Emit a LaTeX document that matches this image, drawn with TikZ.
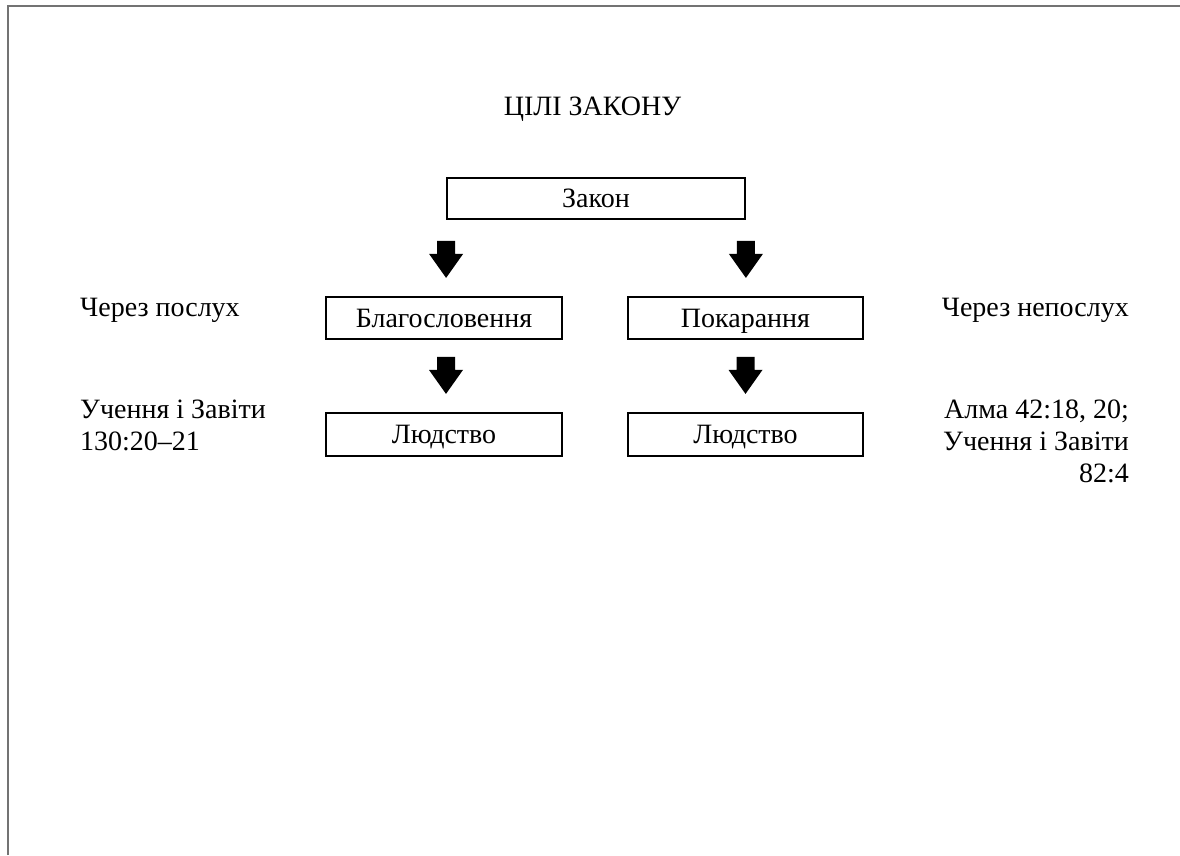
\documentclass[tikz,border=0pt]{standalone}
\usepackage{fontspec}
\setmainfont{Liberation Serif}
\usetikzlibrary{calc}
\tikzset{
  txt/.style={inner sep=0pt, font=\fontsize{28}{32}\selectfont},
  box/.style={txt, draw, line width=1.8pt, text height=18pt, text depth=0pt},
  fatarrow/.style={fill=black, draw=none},
  frameline/.style={draw=black!55, line width=2pt},
}
\newcommand\fatdown[1]{%
  \fill[fatarrow] ($(#1)+(-9,0)$) -- ($(#1)+(9,0)$) -- ($(#1)+(9,13)$) -- ($(#1)+(17,13)$)
    -- ($(#1)+(0,37)$) -- ($(#1)+(-17,13)$) -- ($(#1)+(-9,13)$) -- cycle;}
\begin{document}
\begin{tikzpicture}[x=1pt,y=-1pt]
  \useasboundingbox (0,0) rectangle (1180,855);
  \fill[white] (0,0) rectangle (1180,855);
  \draw[frameline] (8,855) -- (8,6) -- (1180,6);

  \node[txt, anchor=base] (title) at (592.5,115) {ЦІЛІ ЗАКОНУ};

  \node[box, minimum width=298pt, minimum height=41pt] (zakon) at (596,198.5) {Закон};
  \node[box, minimum width=236pt, minimum height=42pt] (bless) at (444,318) {Благословення};
  \node[box, minimum width=235pt, minimum height=42pt] (punish) at (745.5,318) {Покарання};
  \node[box, minimum width=236pt, minimum height=43pt] (hum1) at (444,434.5) {Людство};
  \node[box, minimum width=235pt, minimum height=43pt] (hum2) at (745.5,434.5) {Людство};

  \coordinate (a1) at ($(zakon.south west)+(0,21)$);
  \coordinate (a2) at ($(zakon.south east)+(0,21)$);
  \coordinate (a3) at ($(bless.south)+(2,17)$);
  \coordinate (a4) at ($(punish.south)+(0,17)$);
  \fatdown{a1}
  \fatdown{a2}
  \fatdown{a3}
  \fatdown{a4}

  \node[txt, anchor=base west] (l1) at (80,316) {Через послух};
  \node[txt, anchor=base west] (l2) at (80,418) {Учення і Завіти};
  \node[txt, anchor=base west] (l3) at (80,450) {130:20–21};

  \node[txt, anchor=base east] (r1) at (1129,316) {Через непослух};
  \node[txt, anchor=base east] (r2) at (1129,418) {Алма 42:18, 20;};
  \node[txt, anchor=base east] (r3) at (1129,450) {Учення і Завіти};
  \node[txt, anchor=base east] (r4) at (1129,482) {82:4};
\end{tikzpicture}
\end{document}
